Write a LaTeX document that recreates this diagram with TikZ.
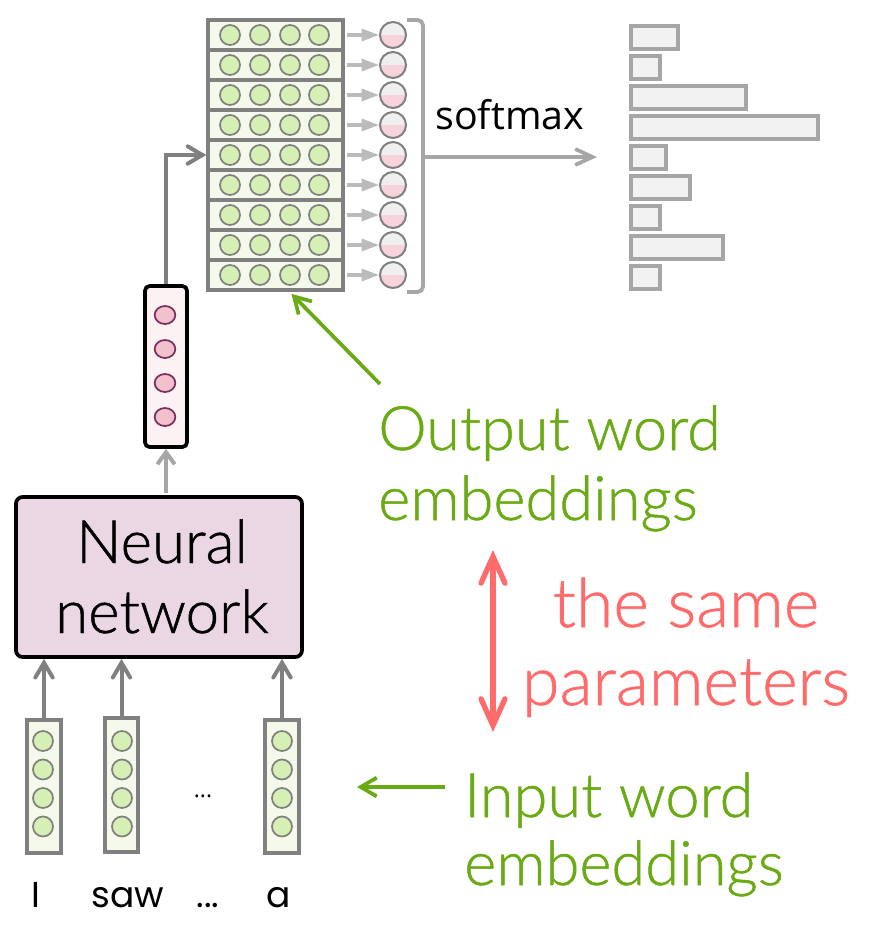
\documentclass[tikz,border=0pt]{standalone}
\usepackage{fontspec}
\usetikzlibrary{arrows.meta,calc,shapes.geometric}
\newfontfamily\lightf{Lato Light}[FakeBold=0.8]
\newfontfamily\regf{Open Sans}
\newfontfamily\comicf{Poppins}
\definecolor{mgray}{HTML}{808080}
\definecolor{lgray}{HTML}{A6A6A6}
\definecolor{rgray}{HTML}{BBBBBB}
\definecolor{mfill}{HTML}{F4F9EC}
\definecolor{gcfill}{HTML}{D5EFB5}
\definecolor{nnfill}{HTML}{EBD7E4}
\definecolor{hfill}{HTML}{FCF2F4}
\definecolor{hcfill}{HTML}{F3C1CD}
\definecolor{hcdraw}{HTML}{7B2D5E}
\definecolor{sgray}{HTML}{EFEFEF}
\definecolor{spink}{HTML}{F7D4DC}
\definecolor{barfill}{HTML}{F2F2F2}
\definecolor{gtext}{HTML}{6AAA14}
\definecolor{rtext}{HTML}{FF6B6B}
\begin{document}
\begin{tikzpicture}[x=0.75pt,y=-0.75pt,
  mrow/.style={rectangle,draw=mgray,fill=mfill,line width=2.8pt,minimum width=101pt,minimum height=22.5pt,inner sep=0pt},
  gcirc/.style={circle,draw=mgray,fill=gcfill,line width=1.3pt,minimum size=15pt,inner sep=0pt},
  scirc/.style={circle,draw=mgray,fill=sgray,line width=1.5pt,minimum size=19.5pt,inner sep=0pt,
     path picture={\fill[spink] (path picture bounding box.west) rectangle (path picture bounding box.south east);}},
  vbox/.style={rectangle,draw=mgray,fill=mfill,line width=2.8pt,minimum width=25pt,minimum height=100pt,inner sep=0pt},
  hbox/.style={rectangle,rounded corners=3.5pt,draw=black,fill=hfill,line width=2.8pt,minimum width=31.5pt,minimum height=120.75pt,inner sep=0pt},
  hcirc/.style={ellipse,draw=hcdraw,fill=hcfill,line width=1.3pt,minimum width=15.5pt,minimum height=13.5pt,inner sep=0pt},
  nnbox/.style={rectangle,rounded corners=5pt,draw=black,fill=nnfill,line width=2.8pt,minimum width=214.5pt,minimum height=120pt,inner sep=0pt},
  barst/.style={rectangle,draw=lgray,fill=barfill,line width=2.8pt,minimum height=17.5pt,inner sep=0pt,anchor=north west},
  darr/.style={draw=mgray,line width=3pt,-{Straight Barb[length=11pt,width=13pt,line cap=round]}},
  lgarr/.style={draw=lgray,line width=3pt,-{Straight Barb[length=9pt,width=13pt]}},
  rowarr/.style={draw=rgray,line width=2.3pt,-{Triangle[length=13pt,width=9pt]}},
  smarr/.style={draw=lgray,line width=2.8pt,-{Straight Barb[length=13pt,width=12pt]}},
  brk/.style={draw=lgray,line width=2.8pt,rounded corners=4pt},
  garr/.style={draw=gtext,line width=2.8pt,-{Straight Barb[length=12pt,width=14pt]}},
  rarr/.style={draw=rtext,line width=4pt,{Straight Barb[length=20pt,width=18pt,line cap=round]}-{Straight Barb[length=20pt,width=18pt,line cap=round]}},
  bigtxt/.style={font=\lightf\fontsize{45}{52}\selectfont,inner sep=0pt},
  gtxt/.style={font=\lightf\fontsize{46}{54}\selectfont,text=gtext,inner sep=0pt,anchor=base west},
  rtxt/.style={font=\lightf\fontsize{51}{58}\selectfont,text=rtext,inner sep=0pt,anchor=base},
  smtxt/.style={font=\regf\fontsize{29.5}{34}\selectfont,inner sep=0pt,anchor=base west},
  lbl/.style={font=\comicf\fontsize{27}{32}\selectfont,inner sep=0pt,anchor=base},
]
\useasboundingbox[fill=white] (0,0) rectangle (876,925);

% output embedding matrix
\foreach \k in {0,...,8}{
  \node[mrow] (r\k) at (275.5,{35+30*\k}) {};
}
\foreach \k in {0,...,8}{
  \foreach \j/\x in {1/230,2/260,3/290,4/319}{
    \node[gcirc] (c\k-\j) at (\x,{35+30*\k}) {};
  }
  \node[scirc] (s\k) at (393,{35+30*\k}) {};
  \draw[rowarr] ([xshift=1.5pt]r\k.east) -- (s\k.west);
}

% bracket and softmax
\draw[brk] (407,20) -- (423,20) -- (423,292) -- (407,292);
\coordinate (smS) at (423,157);
\coordinate (smE) at (597,157);
\draw[smarr] (smS) -- (smE);
\node[smtxt] (smlabel) at (435,129) {softmax};

% bars
\foreach \k/\r in {0/676,1/658,2/744,3/816,4/664,5/688,6/658,7/721,8/658}{
  \node[barst,minimum width={(\r-629)*0.75pt}] (b\k) at (629,{24+30*\k}) {};
}

% hidden vector
\node[hbox] (h) at (166,366.5) {};
\foreach \i/\y in {1/315,2/349,3/383,4/417}{
  \node[hcirc] (hc\i) at (165,\y) {};
}

% neural network
\node[nnbox] (nn) at (159,577) {};
\node[bigtxt,anchor=base] (nn1) at (162,563) {Neural};
\node[bigtxt,anchor=base] (nn2) at (162,633) {network};

\draw[lgarr] ($(h.south)+(0,44)$) -- (h.south);
\draw[darr] (h.north) |- (r4.west);

% input vectors
\node[vbox] (v1) at (44,786.5) {};
\node[vbox] (v2) at (121.5,785) {};
\node[vbox] (v3) at (282,786.5) {};
\foreach \v/\x in {1/43,2/122,3/282}{
  \foreach \i/\y in {1/741,2/769.5,3/798,4/826.5}{
    \node[gcirc] (v\v c\i) at (\x,\y) {};
  }
  \draw[darr] (v\v.north) -- (v\v.north |- nn.south);
}
\node[font=\regf\fontsize{17}{20}\selectfont,anchor=base,inner sep=0pt] (vdots) at (203,797) {...};

\node[lbl] (wI) at (36,907) {I};
\node[lbl] (wsaw) at (128,907) {saw};
\node[lbl] (wdots) at (208,907) {...};
\node[lbl] (wa) at (279,907) {a};

% annotations
\node[gtxt] (out1) at (378,450) {Output word};
\node[gtxt] (out2) at (378,520) {embeddings};
\coordinate (oaS) at (380,384);
\draw[garr] (oaS) -- ($(r8.south)+(16,2)$);

\node[rtxt] (same1) at (686,627) {the same};
\node[rtxt] (same2) at (686,705) {parameters};
\coordinate (raT) at (493,550);
\coordinate (raB) at (493,732);
\draw[rarr] (raT) -- (raB);

\node[gtxt] (in1) at (464,817) {Input word};
\node[gtxt] (in2) at (464,885) {embeddings};
\coordinate (iaS) at (445,787);
\coordinate (iaE) at (357,787);
\draw[garr] (iaS) -- (iaE);
\end{tikzpicture}
\end{document}
